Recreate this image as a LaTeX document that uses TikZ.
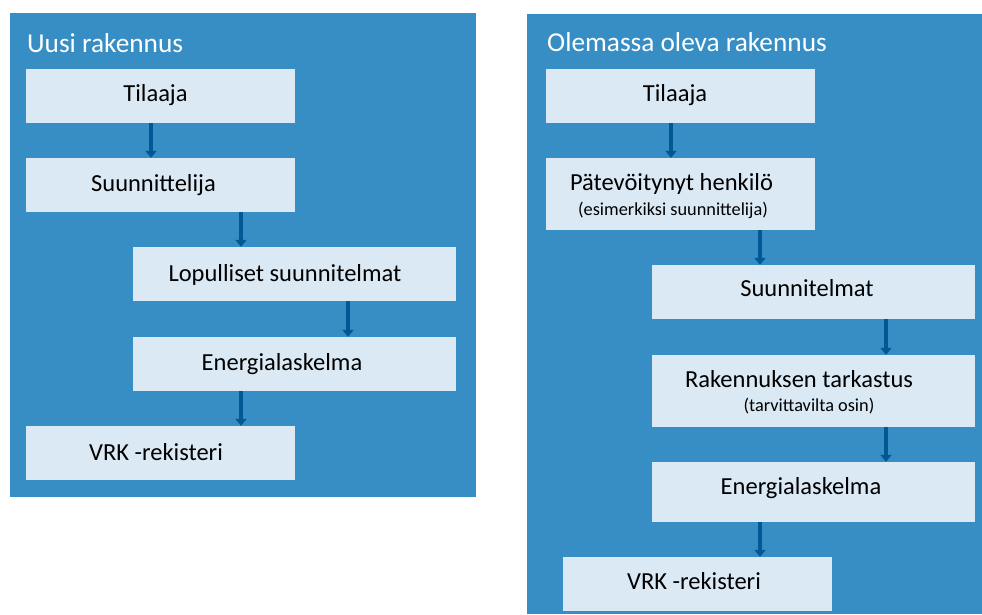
\documentclass[tikz,border=0pt]{standalone}
\usepackage{fontspec}
\setmainfont{Carlito}
\usetikzlibrary{arrows.meta}
\definecolor{panelblue}{RGB}{54,142,196}
\definecolor{boxblue}{RGB}{218,233,244}
\definecolor{arrowblue}{RGB}{0,88,148}
\tikzset{
  panel/.style={fill=panelblue, draw=none},
  stepbox/.style={fill=boxblue, draw=none, rectangle, inner sep=0pt},
  maintxt/.style={anchor=base, inner sep=0pt, font=\fontsize{24.5}{28}\selectfont, text=black},
  smalltxt/.style={anchor=base, inner sep=0pt, font=\fontsize{18.3}{21}\selectfont, text=black},
  titletxt/.style={anchor=base west, inner sep=0pt, font=\fontsize{27.3}{30}\selectfont, text=white},
  flow/.style={draw=arrowblue, line width=4.5pt, -{Triangle[width=11pt,length=7pt]}}
}
\begin{document}
\begin{tikzpicture}[x=1pt,y=-1pt]
\useasboundingbox (0,0) rectangle (982,614);
% panels
\fill[panel] (10,13) rectangle (476,497);
\fill[panel] (527,14) rectangle (982,614);
\node[titletxt] (lt) at (27,52) {Uusi rakennus};
\node[titletxt] (rt) at (547,51) {Olemassa oleva rakennus};
% left boxes
\node[stepbox, minimum width=269pt, minimum height=54pt] (l1) at (160.5,96) {};
\node[stepbox, minimum width=269pt, minimum height=54pt] (l2) at (160.5,185) {};
\node[stepbox, minimum width=323pt, minimum height=54pt] (l3) at (294.5,274) {};
\node[stepbox, minimum width=323pt, minimum height=54pt] (l4) at (294.5,364) {};
\node[stepbox, minimum width=269pt, minimum height=54pt] (l5) at (160.5,453) {};
\node[maintxt] at (155.5,101.7) {Tilaaja};
\node[maintxt] at (153.5,191.7) {Suunnittelija};
\node[maintxt] at (285,281.7) {Lopulliset suunnitelmat};
\node[maintxt] at (282,370) {Energialaskelma};
\node[maintxt] at (156,460) {VRK -rekisteri};
\draw[flow] (l1.south -| 151,0) -- (l2.north -| 151,0);
\draw[flow] (l2.south -| 241,0) -- (l3.north -| 241,0);
\draw[flow] (l3.south -| 348,0) -- (l4.north -| 348,0);
\draw[flow] (l4.south -| 241,0) -- (l5.north -| 241,0);
% right boxes
\node[stepbox, minimum width=269pt, minimum height=54pt] (r1) at (680.5,96) {};
\node[stepbox, minimum width=269pt, minimum height=72pt] (r2) at (680.5,194) {};
\node[stepbox, minimum width=323pt, minimum height=54pt] (r3) at (813.5,292) {};
\node[stepbox, minimum width=323pt, minimum height=72pt] (r4) at (813.5,391) {};
\node[stepbox, minimum width=323pt, minimum height=60pt] (r5) at (813.5,492) {};
\node[stepbox, minimum width=269pt, minimum height=54pt] (r6) at (697.5,584) {};
\node[maintxt] at (675,101.7) {Tilaaja};
\node[maintxt] at (671.5,190.7) {Pätevöitynyt henkilö};
\node[smalltxt] at (673,215) {(esimerkiksi suunnittelija)};
\node[maintxt] at (807,296) {Suunnitelmat};
\node[maintxt] at (799,387.3) {Rakennuksen tarkastus};
\node[smalltxt] at (809,411.7) {(tarvittavilta osin)};
\node[maintxt] at (801,494) {Energialaskelma};
\node[maintxt] at (694,589.3) {VRK -rekisteri};
\draw[flow] (r1.south -| 671,0) -- (r2.north -| 671,0);
\draw[flow] (r2.south -| 760,0) -- (r3.north -| 760,0);
\draw[flow] (r3.south -| 886,0) -- (r4.north -| 886,0);
\draw[flow] (r4.south -| 886,0) -- (r5.north -| 886,0);
\draw[flow] (r5.south -| 760,0) -- (r6.north -| 760,0);
\end{tikzpicture}
\end{document}
